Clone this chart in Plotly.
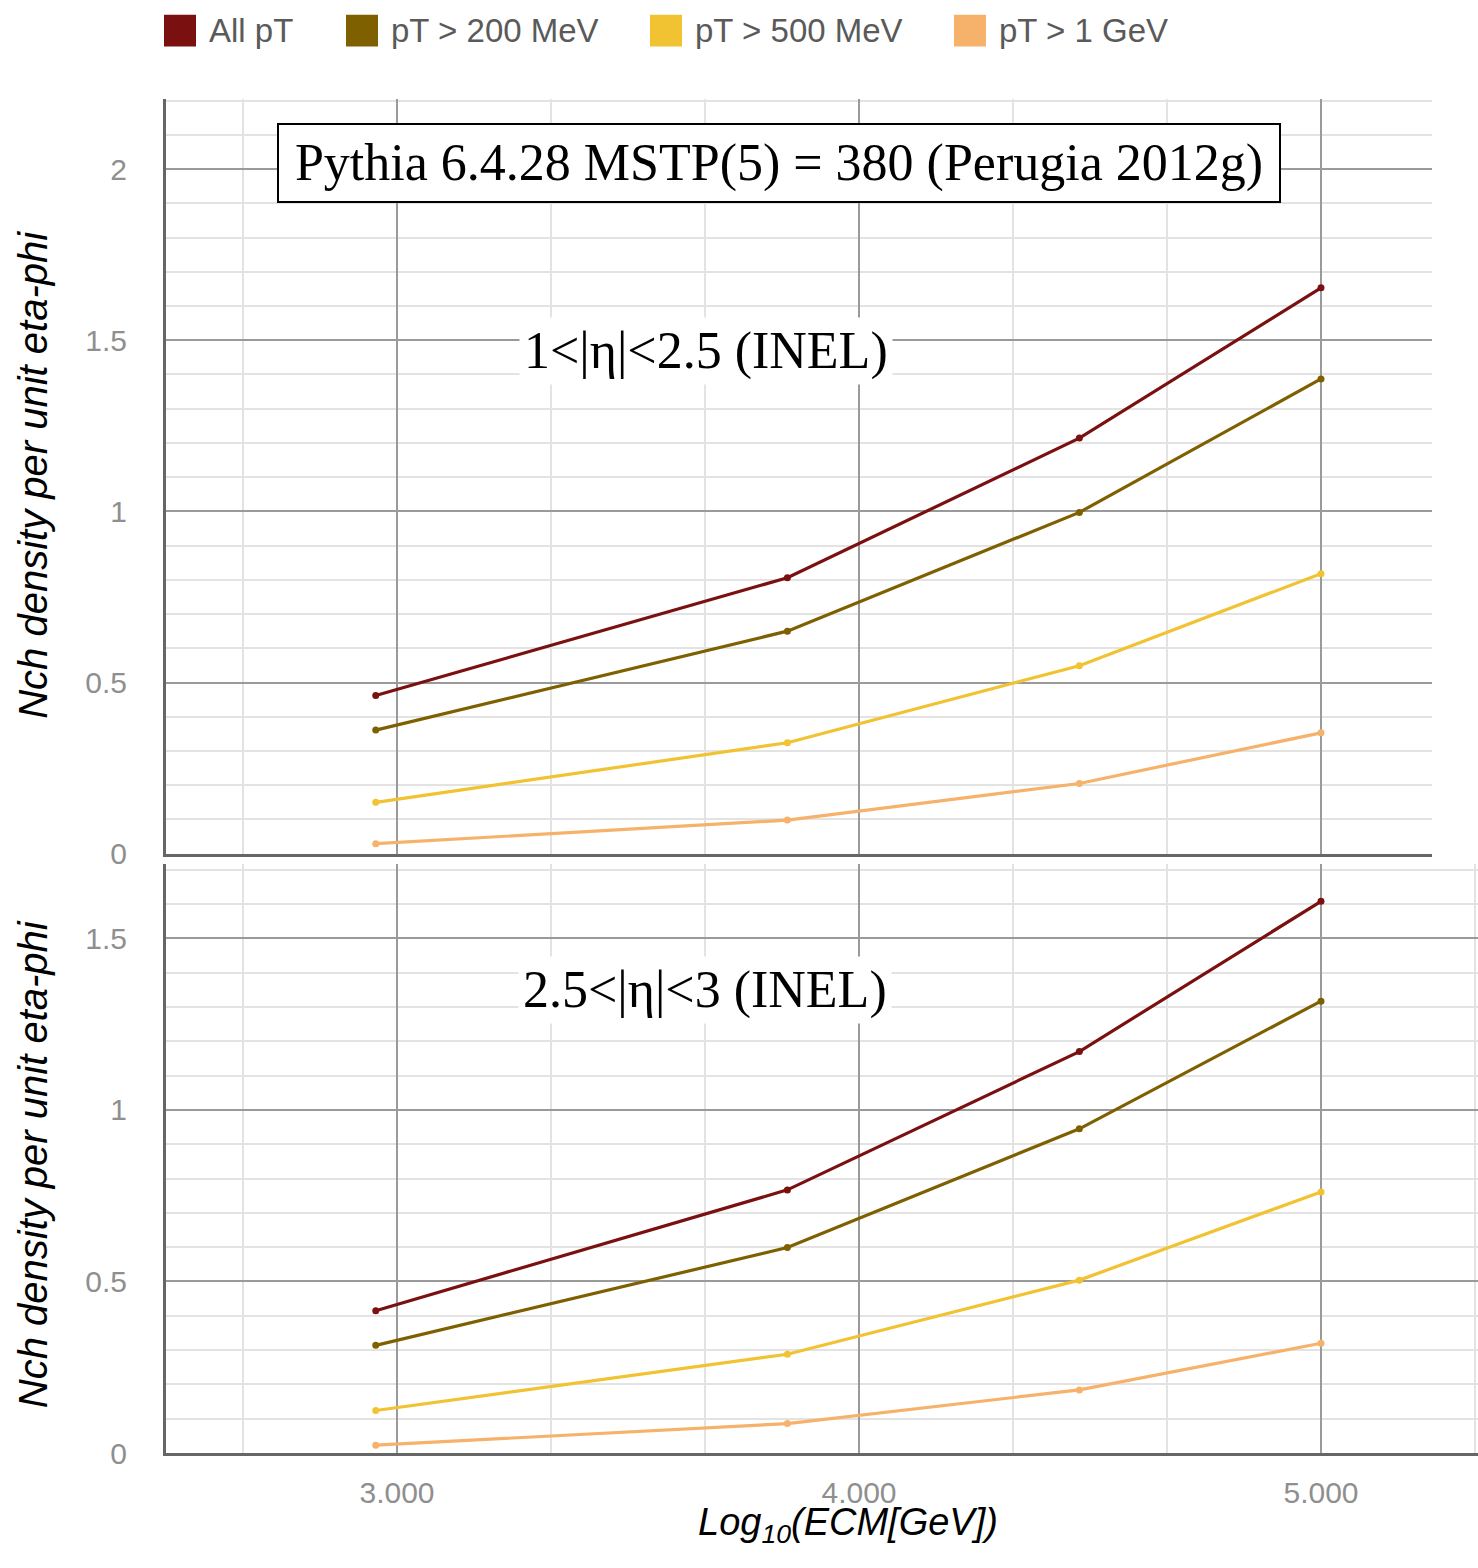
import plotly.graph_objects as go

# ---------------- data ----------------
log_ecm = [2.954, 3.845, 4.477, 5.0]
series_names = ["All pT", "pT > 200 MeV", "pT > 500 MeV", "pT > 1 GeV"]
series_colors = ["#7b1010", "#7f6000", "#f1c232", "#f6b26b"]

# 1<|eta|<2.5 (INEL)
top_all = [0.462, 0.806, 1.214, 1.653]
top_200 = [0.361, 0.650, 0.997, 1.387]
top_500 = [0.150, 0.324, 0.549, 0.818]
top_1g = [0.029, 0.098, 0.205, 0.353]

# 2.5<|eta|<3 (INEL)
bot_all = [0.415, 0.767, 1.170, 1.608]
bot_200 = [0.314, 0.599, 0.945, 1.317]
bot_500 = [0.124, 0.288, 0.504, 0.761]
bot_1g = [0.023, 0.086, 0.184, 0.320]

x_tickvals = [3, 4, 5]
x_ticktext = ["3.000", "4.000", "5.000"]
top_yticks = [0, 0.5, 1, 1.5, 2]
bot_yticks = [0, 0.5, 1, 1.5]

# ---------------- figure ----------------
W, H = 1478, 1568
fig = go.Figure()

top_series = [top_all, top_200, top_500, top_1g]
bot_series = [bot_all, bot_200, bot_500, bot_1g]

for name, col, ys in zip(series_names, series_colors, top_series):
    fig.add_trace(go.Scatter(x=log_ecm, y=ys, mode="lines+markers", name=name,
                             line=dict(color=col, width=3.2),
                             marker=dict(color=col, size=7),
                             xaxis="x", yaxis="y", showlegend=False))
for name, col, ys in zip(series_names, series_colors, bot_series):
    fig.add_trace(go.Scatter(x=log_ecm, y=ys, mode="lines+markers", name=name,
                             line=dict(color=col, width=3.2),
                             marker=dict(color=col, size=7),
                             xaxis="x2", yaxis="y2", showlegend=False))

px_per_unit = 462.0
left_px = 166
top_right_px = 1432

def px2fx(p):
    return p / W

def px2fy(p):
    return 1 - p / H

major_grid = "#9a9a9a"
minor_grid = "#e3e3e3"
axis_line = "#666666"
tick_font = dict(family="Liberation Sans, Arial, sans-serif", size=30, color="#8f8f8f")

common_x = dict(
    tickmode="array", tickvals=x_tickvals, ticktext=x_ticktext,
    showgrid=True, gridcolor=major_grid, gridwidth=2,
    minor=dict(tickmode="linear", tick0=3, dtick=1/3, showgrid=True,
               gridcolor=minor_grid, gridwidth=2, ticks=""),
    showline=False, zeroline=False, ticks="", tickfont=tick_font,
)
common_y = dict(
    showgrid=True, gridcolor=major_grid, gridwidth=2,
    minor=dict(tickmode="linear", tick0=0, dtick=0.1, showgrid=True,
               gridcolor=minor_grid, gridwidth=2, ticks=""),
    showline=True, linecolor=axis_line, linewidth=3,
    zeroline=False, ticks="", tickfont=tick_font, ticklabelstandoff=30,
)

fig.update_layout(
    width=W, height=H, autosize=False,
    margin=dict(l=0, r=0, t=0, b=0),
    paper_bgcolor="white", plot_bgcolor="white",
    font=dict(family="Liberation Sans, Arial, sans-serif"),
    xaxis=dict(common_x, domain=[px2fx(left_px), px2fx(top_right_px)],
               range=[2.5, 2.5 + (top_right_px - left_px) / px_per_unit],
               anchor="y", showticklabels=False,
               showline=True, linecolor=axis_line, linewidth=3),
    yaxis=dict(common_y, domain=[px2fy(863), px2fy(100)], range=[0, 2.205],
               anchor="x", tickvals=top_yticks,
               ticktext=[str(v) for v in top_yticks]),
    xaxis2=dict(common_x, domain=[px2fx(left_px), 1.0],
                range=[2.5, 2.5 + (W - left_px) / px_per_unit],
                anchor="y2", showline=True, linecolor=axis_line, linewidth=3,
                ticklabelstandoff=11),
    yaxis2=dict(common_y, domain=[px2fy(1469), px2fy(873)], range=[0, 1.718],
                anchor="x2", tickvals=bot_yticks,
                ticktext=[str(v) for v in bot_yticks]),
)

serif = dict(family="Liberation Serif, Times New Roman, serif", size=52, color="black")
title_font = dict(family="Liberation Sans, Arial, sans-serif", size=40,
                  color="black", style="italic")
ann = [
    dict(text="Pythia 6.4.28 MSTP(5) = 380 (Perugia 2012g)", xref="x", yref="y",
         x=3.827, y=2.019, xanchor="center", yanchor="middle", showarrow=False,
         font=serif, bgcolor="white",
         bordercolor="black", borderwidth=2, borderpad=3, width=994, height=70),
    dict(text="1<|η|<2.5 (INEL)", xref="x", yref="y", x=3.669, y=1.468,
         xanchor="center", yanchor="middle",
         showarrow=False, font=serif, bgcolor="white", borderpad=4),
    dict(text="2.5<|η|<3 (INEL)", xref="x2", yref="y2", x=3.667, y=1.349,
         xanchor="center", yanchor="middle",
         showarrow=False, font=serif, bgcolor="white", borderpad=4),
    dict(text="Nch density per unit eta-phi", xref="paper", yref="paper",
         x=px2fx(33), y=px2fy(480), xanchor="center", yanchor="middle",
         textangle=-90, showarrow=False, font=title_font),
    dict(text="Nch density per unit eta-phi", xref="paper", yref="paper",
         x=px2fx(33), y=px2fy(1177), xanchor="center", yanchor="middle",
         textangle=-90, showarrow=False, font=title_font),
    dict(text="Log<sub>10</sub>(ECM[GeV])", xref="paper", yref="paper",
         x=px2fx(848), y=px2fy(1568), xanchor="center", yanchor="bottom",
         showarrow=False,
         font=dict(family="Liberation Sans, Arial, sans-serif", size=38,
                   color="black", style="italic")),
]

# manual legend (large square swatches)
legend_x = [164, 346, 650, 954]
shapes = []
for lx, name, col in zip(legend_x, series_names, series_colors):
    shapes.append(dict(type="rect", xref="paper", yref="paper",
                       x0=px2fx(lx), x1=px2fx(lx + 32), y0=px2fy(47), y1=px2fy(15),
                       fillcolor=col, line=dict(width=0)))
    ann.append(dict(text=name, xref="paper", yref="paper", x=px2fx(lx + 43),
                    y=px2fy(31), xanchor="left", yanchor="middle", showarrow=False,
                    font=dict(family="Liberation Sans, Arial, sans-serif", size=33,
                              color="#5a5a5a")))

fig.update_layout(annotations=ann, shapes=shapes)

fig.write_html("out.html")
